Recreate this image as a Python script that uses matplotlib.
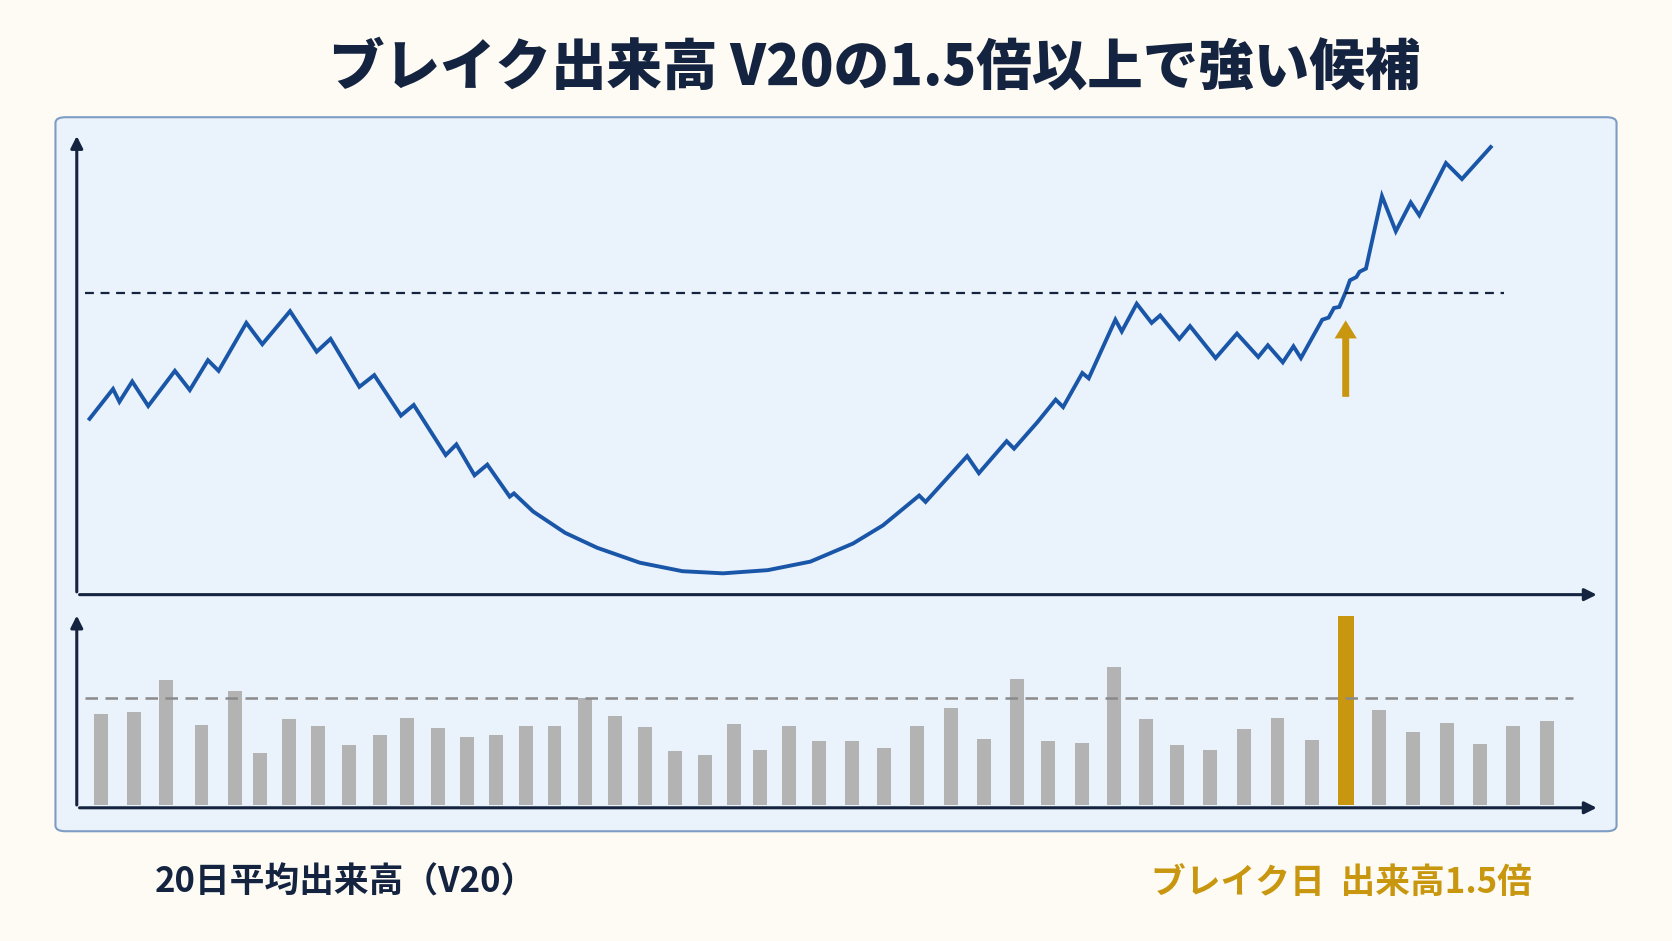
import matplotlib.pyplot as plt
from matplotlib.patches import FancyBboxPatch

plt.rcParams['font.family'] = ['Noto Sans CJK JP', 'DejaVu Sans']

# price path (x = day position, y = price level)
price_x = [84, 106, 112, 124, 139, 164, 178, 195, 205, 231, 246, 272, 297, 310, 337, 351,
           376, 388, 418, 428, 445, 457, 478, 482, 500, 530, 560, 600, 640, 678, 720, 760,
           800, 828, 862, 868, 907, 918, 944, 951, 973, 990, 997, 1015, 1021, 1046, 1052,
           1066, 1080, 1088, 1106, 1116, 1140, 1160, 1180, 1189, 1203, 1213, 1220, 1240,
           1246, 1251, 1256, 1262, 1266, 1272, 1275, 1281, 1296, 1309, 1323, 1331, 1356,
           1371, 1398]
price_y = [207, 235, 223, 242, 219, 252, 234, 262, 252, 297, 277, 308, 270, 282, 237, 248,
           210, 220, 173, 183, 154, 164, 134, 137, 120, 100, 86, 72, 64, 62, 65, 73,
           90, 107, 135, 129, 172, 156, 186, 179, 204, 225, 218, 250, 245, 300, 289,
           315, 297, 304, 282, 294, 264, 287, 265, 276, 260, 275, 264, 300,
           302, 311, 312, 326, 337, 340, 345, 348, 416, 383, 410, 398, 447,
           432, 462]
resistance = 325

vol_x = [95, 126, 156, 189, 220, 244, 271, 298, 327, 356, 382, 411, 438, 465, 493, 520,
         549, 577, 605, 633, 661, 688, 713, 740, 768, 799, 829, 860, 892, 923, 954, 983,
         1015, 1045, 1075, 1104, 1135, 1167, 1198, 1230, 1262, 1293, 1325, 1357, 1388,
         1419, 1451]
vol = [85, 87, 117, 75, 107, 48, 80, 74, 56, 65, 81, 72, 63, 65, 74, 74,
       100, 83, 73, 50, 47, 76, 51, 74, 60, 60, 53, 74, 91, 62, 118, 60,
       58, 129, 80, 56, 51, 71, 81, 61, 177, 89, 68, 77, 57, 74, 78]
break_idx = 40
v20 = 100

W, H = 1568, 883
navy = '#14233f'
blue = '#1a56a8'
gold = '#c9970f'

fig = plt.figure(figsize=(16.72, 9.41), dpi=100, facecolor='#fdfbf3')

bg = fig.add_axes([0, 0, 1, 1])
bg.set_xlim(0, 1)
bg.set_ylim(0, 1)
bg.axis('off')
bg.add_patch(FancyBboxPatch((52 / W, 1 - 780 / H), 1464 / W, 670 / H,
                            boxstyle='round,pad=0,rounding_size=0.006',
                            facecolor='#eaf2fb', edgecolor='#7e9cc4', linewidth=1.5))

fig.text(820 / W, 1 - 64 / H, 'ブレイク出来高 V20の1.5倍以上で強い候補', ha='center',
         va='center', fontsize=40, fontweight='heavy', color=navy)


def frame(ax, x0, x1, y0, y1):
    ax.set_xlim(x0, x1)
    ax.set_ylim(y0, y1)
    ax.axis('off')
    ax.patch.set_alpha(0)
    ax.annotate('', xy=(1, 0), xytext=(0, 0), xycoords='axes fraction',
                arrowprops=dict(arrowstyle='-|>', color=navy, lw=2.2, mutation_scale=18))
    ax.annotate('', xy=(0, 1), xytext=(0, 0), xycoords='axes fraction',
                arrowprops=dict(arrowstyle='-|>', color=navy, lw=2.2, mutation_scale=18))


ax1 = fig.add_axes([72 / W, 1 - 558 / H, 1428 / W, 433 / H])
frame(ax1, 72, 1500, 42, 475)
ax1.plot(price_x, price_y, color=blue, lw=2.8, solid_joinstyle='miter')
ax1.plot([80, 1410], [resistance, resistance], ls=(0, (4, 3)), color=navy, lw=1.6)
ax1.annotate('', xy=(1262, 302), xytext=(1262, 225),
             arrowprops=dict(arrowstyle='simple,head_width=1.6,head_length=1.3,tail_width=0.5',
                             color=gold, lw=0))

ax2 = fig.add_axes([72 / W, 1 - 758 / H, 1428 / W, 183 / H])
frame(ax2, 72, 1500, -3, 180)
colors = ['#b3b3b3'] * len(vol)
widths = [13] * len(vol)
colors[break_idx] = gold
widths[break_idx] = 15
ax2.bar(vol_x, vol, width=widths, color=colors)
ax2.plot([80, 1475], [v20, v20], ls=(0, (5, 3)), color='#8a8a8a', lw=1.8)

fig.text(145 / W, 1 - 828 / H, '20日平均出来高（V20）', ha='left', va='center',
         fontsize=25, fontweight='bold', color=navy)
fig.text(1437 / W, 1 - 828 / H, 'ブレイク日  出来高1.5倍', ha='right', va='center',
         fontsize=25, fontweight='bold', color=gold)

fig.savefig('out.png', dpi=100, facecolor=fig.get_facecolor())
